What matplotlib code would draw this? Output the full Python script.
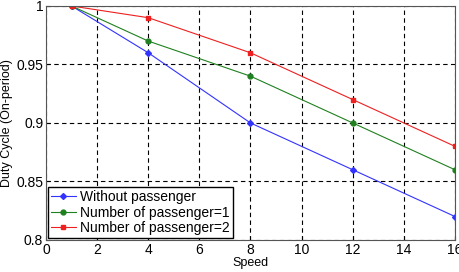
import numpy as np
import matplotlib
matplotlib.use('Agg')
import matplotlib.pyplot as plt

plt.rcParams['font.family'] = ['Liberation Sans', 'DejaVu Sans']

speed = [1, 4, 8, 12, 16]
no_pass = [1.0, 0.96, 0.90, 0.86, 0.82]
pass_1 = [1.0, 0.97, 0.94, 0.90, 0.86]
pass_2 = [1.0, 0.99, 0.96, 0.92, 0.88]

fig = plt.figure(figsize=(4.6, 2.72), dpi=100)
ax = fig.add_axes([0.1, 0.118, 0.889, 0.86])

ax.plot(speed, no_pass, color='#3333ff', marker='D', markersize=3, lw=0.8, label='Without passenger')
ax.plot(speed, pass_1, color='#208020', marker='o', markersize=3.5, lw=0.8, label='Number of passenger=1')
ax.plot(speed, pass_2, color='#ee2020', marker='s', markersize=3.5, lw=0.8, label='Number of passenger=2')

ax.set_xlim(0, 16)
ax.set_ylim(0.8, 1.0)
ax.set_xticks(np.arange(0, 17, 2))
ax.set_yticks([0.8, 0.85, 0.9, 0.95, 1.0])
ax.set_yticklabels(['0.8', '0.85', '0.9', '0.95', '1'])
ax.grid(True, color='black', linestyle=(0, (4, 3)), linewidth=0.8)
ax.tick_params(direction='in', labelsize=10, length=3, pad=2)
for s in ax.spines.values():
    s.set_color('#555555')

ax.set_xlabel('Speed', fontsize=9, labelpad=0)
ax.set_ylabel('Duty Cycle (On-period)', fontsize=9, labelpad=2)

leg = ax.legend(loc='lower left', fontsize=10, fancybox=False, framealpha=1,
                borderaxespad=0.15, handlelength=1.8, handletextpad=0.3,
                labelspacing=0.1, borderpad=0.2)
leg.get_frame().set_edgecolor('black')

fig.savefig('out.png', dpi=100)
